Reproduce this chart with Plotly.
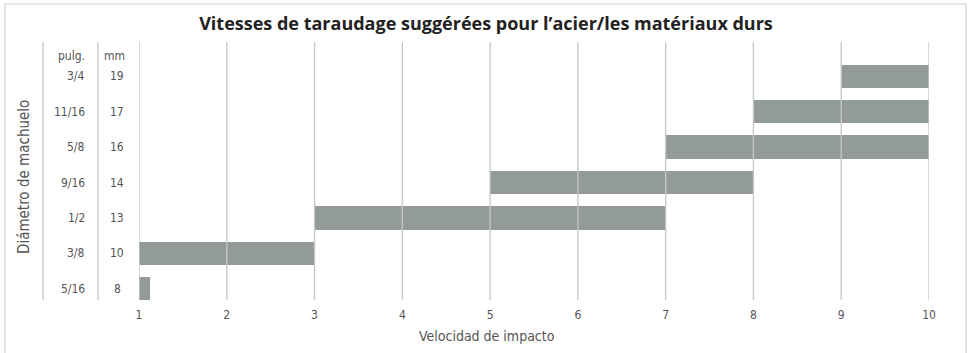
import plotly.graph_objects as go

# Tap sizes, bottom row first
sizes_in = ["5/16", "3/8", "1/2", "9/16", "5/8", "11/16", "3/4"]
sizes_mm = ["8", "10", "13", "14", "16", "17", "19"]
# Impact speed range (start, end) for each size
speed_start = [1, 1, 3, 5, 7, 8, 9]
speed_end = [1.13, 3, 7, 8, 10, 10, 10]
speed_ticks = [1, 2, 3, 4, 5, 6, 7, 8, 9, 10]

W, H = 972, 353
ML, MR, MT, MB = 139, 43, 42, 53
COND = "DejaVu Sans Condensed, Liberation Sans Narrow, sans-serif"
TXT = "#555555"
GRID = "#c6c6c6"
BAR = "#939a9a"

rows = list(range(len(sizes_in)))
widths = [e - s for s, e in zip(speed_start, speed_end)]

fig = go.Figure(
    go.Bar(
        y=rows,
        x=widths,
        base=speed_start,
        orientation="h",
        width=0.66,
        marker=dict(color=BAR, line=dict(width=0)),
        hoverinfo="skip",
    )
)

pw = W - ML - MR
ph = H - MT - MB


def px_x(px):
    return (px - ML) / pw


def px_y(py):
    return 1 + (MT - py) / ph


shapes = []
# vertical grid lines at each speed tick, drawn over the bars
for t in speed_ticks:
    shapes.append(dict(type="line", xref="x", yref="paper", x0=t, x1=t, y0=0, y1=1,
                       line=dict(color=GRID, width=1.3), layer="above"))
# column separators for the size labels
for xp in (43, 98):
    shapes.append(dict(type="line", xref="paper", yref="paper",
                       x0=px_x(xp), x1=px_x(xp), y0=0, y1=1,
                       line=dict(color=GRID, width=1.3), layer="above"))
# outer frame (bottom edge runs off the page)
shapes.append(dict(type="rect", xref="paper", yref="paper",
                   x0=px_x(5), x1=px_x(966), y0=px_y(370), y1=px_y(4),
                   line=dict(color="#d0d0d0", width=1.2), fillcolor="rgba(0,0,0,0)",
                   layer="below"))

lab_font = dict(family=COND, size=12, color=TXT)
annotations = []
for r, a, b in zip(rows, sizes_in, sizes_mm):
    annotations.append(dict(x=px_x(87), xref="paper", y=r, yref="y", text=a,
                            showarrow=False, xanchor="right", font=lab_font))
    annotations.append(dict(x=px_x(117), xref="paper", y=r, yref="y", text=b,
                            showarrow=False, xanchor="center", font=lab_font))
# column headers
annotations.append(dict(x=px_x(87), xref="paper", y=px_y(56), yref="paper", text="pulg.",
                        showarrow=False, xanchor="right", yanchor="middle", font=lab_font))
annotations.append(dict(x=px_x(114), xref="paper", y=px_y(56), yref="paper", text="mm",
                        showarrow=False, xanchor="center", yanchor="middle", font=lab_font))
# axis titles
annotations.append(dict(x=px_x(24), xref="paper", y=px_y(177), yref="paper",
                        text="Diámetro de machuelo", textangle=-90, showarrow=False,
                        xanchor="center", yanchor="middle",
                        font=dict(family=COND, size=15, color=TXT)))
annotations.append(dict(x=px_x(487), xref="paper", y=px_y(336), yref="paper",
                        text="Velocidad de impacto", showarrow=False,
                        xanchor="center", yanchor="middle",
                        font=dict(family=COND, size=14, color=TXT)))

fig.update_layout(
    width=W, height=H,
    margin=dict(l=ML, r=MR, t=MT, b=MB),
    paper_bgcolor="white", plot_bgcolor="white",
    showlegend=False,
    bargap=0,
    title=dict(text="<b>Vitesses de taraudage suggérées pour l’acier/les matériaux durs</b>",
               x=0.5, xref="container", xanchor="center", y=1 - 24 / H, yanchor="middle",
               font=dict(family="Open Sans, sans-serif", size=18, color="#222222")),
    xaxis=dict(range=[1, 10], tickvals=speed_ticks, showgrid=False, zeroline=False,
               showline=False, ticks="", ticklabelstandoff=6,
               tickfont=dict(family=COND, size=12, color=TXT)),
    yaxis=dict(range=[-0.32, 6.97], showticklabels=False, showgrid=False,
               zeroline=False, showline=False, ticks=""),
    shapes=shapes,
    annotations=annotations,
)

fig.write_html("out.html")
